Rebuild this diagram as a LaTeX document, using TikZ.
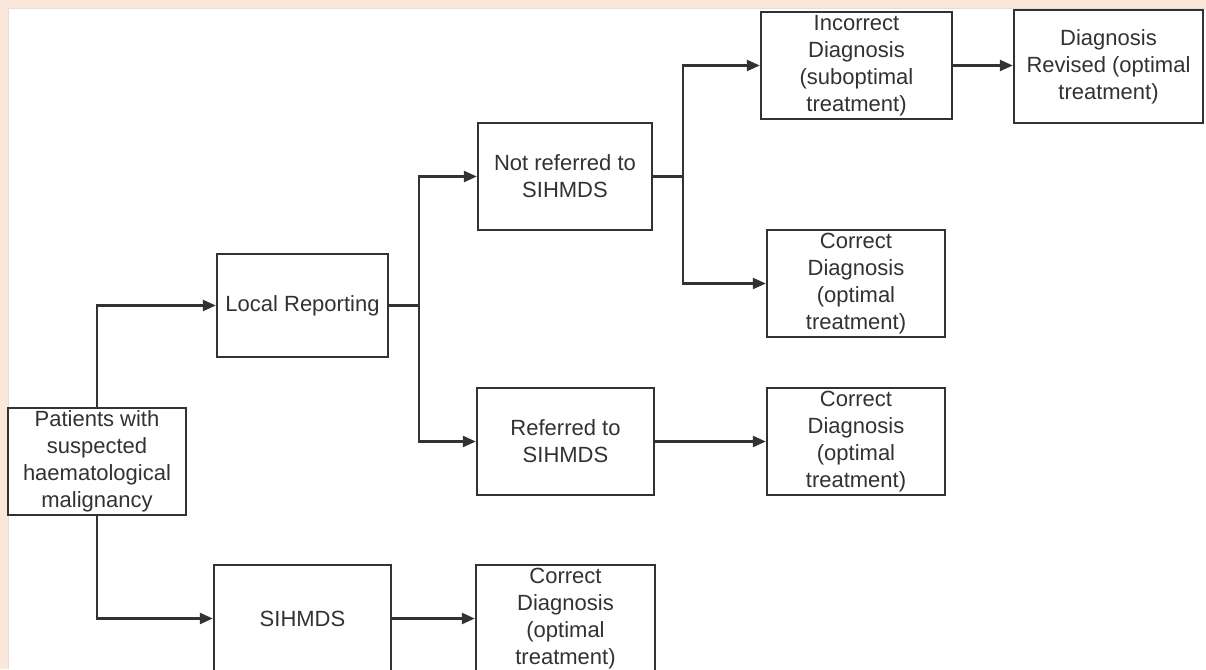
\documentclass[tikz,border=0pt]{standalone}
\usepackage{fontspec}
\setmainfont{Liberation Sans}
\usetikzlibrary{arrows.meta}
\definecolor{peach}{RGB}{252,232,218}
\definecolor{linec}{RGB}{50,50,50}
\definecolor{textc}{RGB}{50,50,50}
\begin{document}
\begin{tikzpicture}[x=1pt,y=-1pt,
  box/.style={draw=linec,line width=2.4pt,align=center,inner sep=0pt,
    text=textc,font=\fontsize{22}{27}\selectfont,minimum height=107pt},
  conn/.style={draw=linec,line width=2.4pt},
  arr/.style={conn,-{Triangle[length=13pt,width=11pt]}}]
\useasboundingbox (0,0) rectangle (1206,669);
\clip (0,0) rectangle (1206,669);
\fill[peach] (0,0) rectangle (1206,669);
\fill[white] (8,9) rectangle (1206,669);
\draw[gray!25,line width=1pt] (8,669) -- (8,9) -- (1206,9);

\node[box,minimum width=178pt] (pat) at (97,461.5) {Patients with\\suspected\\haematological\\malignancy};
\node[box,minimum width=171pt,minimum height=103pt] (loc) at (302.5,305.5) {Local Reporting};
\node[box,minimum width=177pt] (sih) at (302.5,618.5) {SIHMDS};
\node[box,minimum width=179pt] (cd3) at (565.5,618.5) {Correct\\Diagnosis\\(optimal\\treatment)};
\node[box,minimum width=174pt] (nrf) at (565,176.5) {Not referred to\\SIHMDS};
\node[box,minimum width=177pt] (ref) at (565.5,441.5) {Referred to\\SIHMDS};
\node[box,minimum width=191pt] (inc) at (856.5,65.5) {Incorrect\\Diagnosis\\(suboptimal\\treatment)};
\node[box,minimum width=189pt,minimum height=113pt] (rev) at (1108.5,66.5) {Diagnosis\\Revised (optimal\\treatment)};
\node[box,minimum width=178pt] (cd1) at (856,283.5) {Correct\\Diagnosis\\(optimal\\treatment)};
\node[box,minimum width=178pt] (cd2) at (856,441.5) {Correct\\Diagnosis\\(optimal\\treatment)};

\draw[arr] (pat.north) |- (loc.west);
\draw[arr] (pat.south) |- (sih.west);
\draw[arr] (sih.east) -- (cd3.west);
\draw[conn] (loc.east) -- ++(30,0) coordinate (b1);
\draw[arr] (b1) |- (nrf.west);
\draw[arr] (b1) |- (ref.west);
\draw[conn] (nrf.east) -- ++(30,0) coordinate (b2);
\draw[arr] (b2) |- (inc.west);
\draw[arr] (b2) |- (cd1.west);
\draw[arr] (inc.east) -- (inc.east -| rev.west);
\draw[arr] (ref.east) -- (cd2.west);
\end{tikzpicture}
\end{document}
